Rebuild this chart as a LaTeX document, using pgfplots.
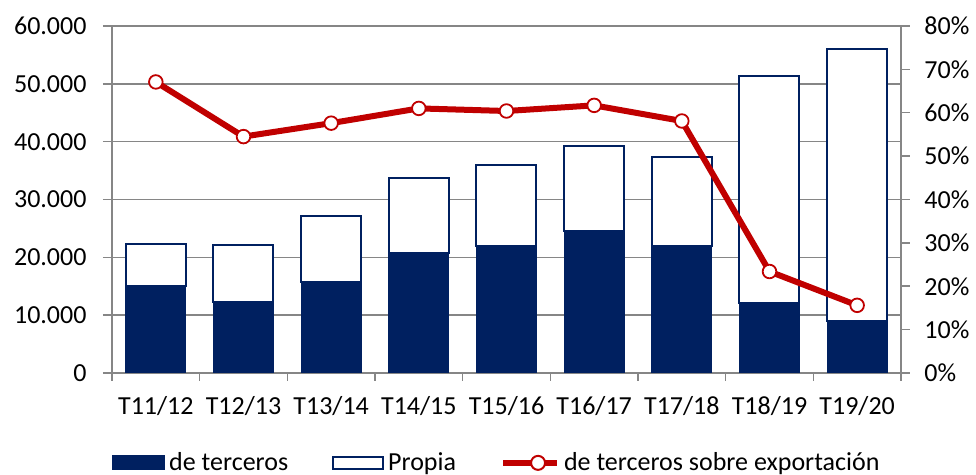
\documentclass[border=0pt]{standalone}
\usepackage{pgfplots}
\pgfplotsset{compat=1.18}
\usepackage{fontspec}
\setmainfont{Carlito}
\definecolor{navy}{RGB}{0,32,96}
\definecolor{dred}{RGB}{192,0,0}
\definecolor{axgray}{RGB}{134,134,134}
\begin{document}
\begin{tikzpicture}
\pgfplotsset{
  every axis/.append style={font=\fontsize{13}{15.6}\selectfont, /pgf/number format/assume math mode=true},
}
\begin{axis}[
  at={(56pt,51pt)}, anchor=south west,
  scale only axis, width=394.5pt, height=173.5pt,
  xmin=-0.5, xmax=8.5, ymin=0, ymax=60000,
  ybar stacked, bar width=30pt,
  axis x line*=bottom, axis y line*=left,
  axis line style={axgray, line width=0.75pt, -},
  ytick={0,10000,...,60000},
  scaled y ticks=false,
  /pgf/number format/1000 sep={.},
  yticklabel style={xshift=-4.7pt},
  ymajorgrids, grid style={axgray, line width=0.75pt},
  xtick={0,...,8},
  xticklabels={T11/12,T12/13,T13/14,T14/15,T15/16,T16/17,T17/18,T18/19,T19/20},
  xticklabel style={yshift=-3.5pt},
  every major x tick/.append style={draw=none},
  minor xtick={-0.5,0.5,...,8.5},
  tick align=outside,
  major tick length=4.5pt, minor tick length=4pt,
  tick style={axgray, line width=0.75pt},
  legend style={at={(0.489,-0.259)}, anchor=center, legend columns=3, draw=none,
    font=\fontsize{13}{15.6}\selectfont, inner sep=0pt,
    /tikz/every even column/.append style={column sep=20pt}},
  legend cell align=left,
]
\addplot[fill=navy, draw=navy, line width=0.5pt,
  legend image code/.code={\fill[navy] (0pt,-3.5pt) rectangle (26pt,3.5pt);}]
  coordinates {(0,15100) (1,12200) (2,15800) (3,20800) (4,22000) (5,24500) (6,21900) (7,12100) (8,9000)};
\addlegendentry{de terceros}
\addplot[fill=white, draw=navy, line width=1pt,
  legend image code/.code={\draw[navy, line width=1pt, fill=white] (0.5pt,-3pt) rectangle (25.5pt,3pt);}]
  coordinates {(0,7200) (1,9900) (2,11400) (3,13000) (4,13900) (5,14800) (6,15500) (7,39300) (8,47100)};
\addlegendentry{Propia}
\addlegendimage{legend image code/.code={
  \draw[dred, line width=3pt] (0pt,0pt) -- (27pt,0pt);
  \node[circle, draw=dred, fill=white, line width=1pt, inner sep=0pt, minimum size=7pt] at (13.5pt,0pt) {};}}
\addlegendentry{de terceros sobre exportación}
\end{axis}
\begin{axis}[
  at={(56pt,51pt)}, anchor=south west,
  scale only axis, width=394.5pt, height=173.5pt,
  xmin=-0.5, xmax=8.5, ymin=0, ymax=80,
  axis y line*=right, axis x line=none,
  axis line style={axgray, line width=0.75pt, -},
  ytick={0,10,...,80},
  yticklabel={\pgfmathprintnumber{\tick}\%},
  yticklabel style={xshift=3.7pt},
  tick align=outside, major tick length=4.5pt,
  tick style={axgray, line width=0.75pt},
]
\addplot[dred, line width=3pt, mark=*, mark size=3.4pt,
  mark options={fill=white, draw=dred, line width=0.9pt}]
  coordinates {(0,67.1) (1,54.5) (2,57.6) (3,61.0) (4,60.4) (5,61.7) (6,58.1) (7,23.4) (8,15.6)};
\end{axis}
\pgfresetboundingbox
\path[use as bounding box] (0,0) rectangle (488pt,237.5pt);
\end{tikzpicture}
\end{document}
